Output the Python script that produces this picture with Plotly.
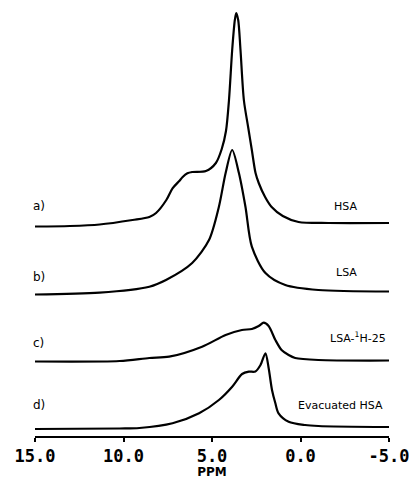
import plotly.graph_objects as go

# Chemical shift (ppm) and intensity (arbitrary units, relative to each baseline)
a_ppm = [15.0, 13.03, 11.35, 9.49, 8.54, 8.16, 7.58, 7.23, 6.85, 6.67, 6.39, 6.12, 5.34, 4.78, 4.45, 4.21,
         4.04, 3.86, 3.71, 3.63, 3.52, 3.39, 3.20, 2.95, 2.75, 2.54, 2.36, 2.0, 1.63, 1.0, 0.11, -1.57, -5.0]
a_int = [-3.5, -3.0, -1.5, 3, 6, 10, 23, 34.7, 42, 45.7, 49.7, 51, 52, 60, 74, 92,
         123, 173, 203, 210, 203, 173, 123, 95, 73, 50, 40, 26, 16, 7, 1, 0, 0]

b_ppm = [15.0, 11.35, 8.54, 7.60, 6.12, 5.17, 4.61, 4.23, 3.86, 3.48, 3.11, 2.75, 1.98, 0.86, -1.01, -5.0]
b_int = [-3.0, -1.2, 4.8, 11.5, 28.5, 51.5, 84.8, 118.5, 141.5, 118.5, 84.8, 44.8, 18.5, 6.5, 1.5, 0]

c_ppm = [15.0, 10.22, 8.54, 7.42, 5.56, 4.23, 3.31, 2.75, 2.36, 2.08, 1.80, 1.42, 1.07, 0.67, 0.30, -1.01, -5.0]
c_int = [-1.0, -0.5, 2.5, 3.8, 13.8, 25.5, 30.5, 31.5, 34.5, 37.8, 34.5, 20.5, 10.5, 5.5, 2.5, 0.5, 0]

d_ppm = [15.0, 10.22, 9.10, 7.23, 5.73, 4.61, 3.86, 3.30, 2.92, 2.55, 2.26, 1.98, 1.80, 1.61, 1.42,
         1.24, 0.67, -0.26, -1.01, -5.0]
d_int = [-2.0, -1.5, -1.0, 3.7, 13.7, 27, 40.3, 53, 55.3, 55.5, 62, 73.7, 59, 37, 23.7,
         13.7, 5.3, 2, 1, 0]

letters = ["a)", "b)", "c)", "d)"]
samples = ["HSA", "LSA", "LSA-<sup>1</sup>H-25", "Evacuated HSA"]

tick_vals = [15.0, 10.0, 5.0, 0.0, -5.0]
tick_labels = ["15.0", "10.0", "5.0", "0.0", "-5.0"]

# stacking offsets of the spectra (plot units)
offsets = [213, 144.5, 75.5, 9]

fig = go.Figure()
for xs, ys, off in zip([a_ppm, b_ppm, c_ppm, d_ppm], [a_int, b_int, c_int, d_int], offsets):
    fig.add_trace(go.Scatter(
        x=xs, y=[off + v for v in ys], mode="lines",
        line=dict(color="black", width=2.2, shape="spline", smoothing=0.8),
        showlegend=False, hoverinfo="skip"))

letter_y = [230, 159, 93, 31]
sample_x = [-2.53, -2.58, -3.26, -2.25]
sample_y = [230, 164, 99, 31]
lab_font = dict(family="DejaVu Sans", size=11, color="black")
for i in range(4):
    fig.add_annotation(x=15.0, y=letter_y[i], text=letters[i], showarrow=False,
                       xanchor="left", yanchor="middle", xshift=-4,
                       font=dict(family="DejaVu Sans", size=12, color="black"))
    fig.add_annotation(x=sample_x[i], y=sample_y[i], text=samples[i], showarrow=False,
                       xanchor="center", yanchor="middle", font=lab_font)

fig.update_layout(
    width=409, height=479,
    margin=dict(l=35, r=18, t=0, b=43),
    paper_bgcolor="white", plot_bgcolor="white",
    xaxis=dict(range=[15, -5], tickvals=tick_vals, ticktext=tick_labels,
               showgrid=False, zeroline=False, showline=True, linecolor="black", linewidth=2,
               ticks="outside", ticklen=4, tickwidth=2, tickcolor="black",
               ticklabeloverflow="allow",
               tickfont=dict(family="DejaVu Sans Mono", size=17, color="black", weight="bold"),
               title=dict(text="PPM", font=dict(family="DejaVu Sans", size=12, color="black", weight="bold"),
                          standoff=1)),
    yaxis=dict(range=[0, 436], visible=False),
)

fig.write_html("out.html")
